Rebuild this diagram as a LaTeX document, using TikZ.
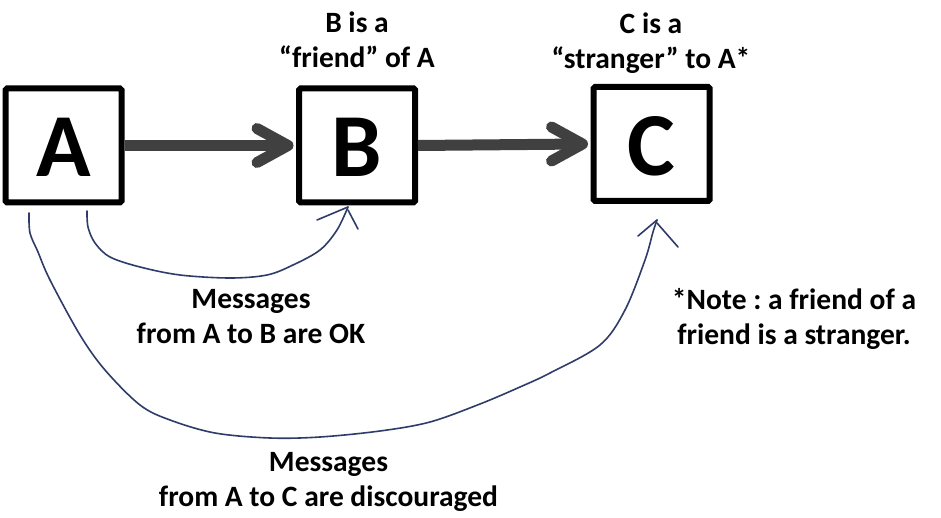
\documentclass[tikz,border=0pt]{standalone}
\usepackage{fontspec}
\setmainfont{Carlito}
\frenchspacing
\definecolor{shaft}{RGB}{64,64,64}
\definecolor{pen}{RGB}{47,60,105}
\tikzset{
  box/.style={draw=black, line width=6pt, minimum width=116pt, minimum height=114pt,
    inner sep=0pt, rounded corners=1.5pt, text height=63pt, text depth=0pt,
    font=\fontsize{90}{90}\selectfont\bfseries},
  label/.style={align=center, inner sep=0pt, font=\fontsize{29.5}{35}\selectfont\bfseries},
  thick arrow/.style={draw=shaft, line width=11pt},
  chevron/.style={draw=shaft, line width=11pt, line cap=round, line join=round},
  penline/.style={draw=pen, line width=1.6pt, line cap=round, line join=round},
}
\begin{document}
\begin{tikzpicture}[x=1pt, y=-1pt]
\useasboundingbox[fill=white] (0,0) rectangle (941,518);

\node[box] (A) at (63.5,145.5) {A};
\node[box] (B) at (357,145.5) {B};
\node[box] (C) at (651.5,144) {C};

\node[label] (lB) at (357,40) {B is a\\“friend” of A};
\node[label] (lC) at (651,43) {C is a\\“stranger” to A*};
\node[label] (mAB) at (251,316.5) {Messages\\from A to B are OK};
\node[label] (mAC) at (328.5,481.5) {Messages\\from A to C are discouraged};
\node[label] (note) at (794,318.5) {*Note : a friend of a\\friend is a stranger.};

% thick grey arrows
\coordinate (tB) at ([xshift=-8pt]B.west);
\coordinate (tC) at ([xshift=-8pt]C.west);
\draw[thick arrow] (A.east) -- (tB);
\draw[chevron] ([shift={(-31,-17)}]tB) -- (tB) -- ([shift={(-31,17)}]tB);
\draw[thick arrow] (B.east) -- (tC);
\draw[chevron] ([shift={(-31,-17)}]tC) -- (tC) -- ([shift={(-31,17)}]tC);

% hand-drawn curve A -> B
\coordinate (s1) at (87,211);
\coordinate (e1) at (348,207);
\draw[penline] plot[smooth, tension=0.55] coordinates {(s1) (88,227) (95,243) (110,257) (140,267) (180,275) (230,278) (267,275) (293,265) (320,250) (337,230) (e1)};
\draw[penline] (317,220) -- (e1);
\draw[penline] (348,210) -- (358,229);

% hand-drawn curve A -> C
\coordinate (s2) at (29,213);
\coordinate (e2) at (657,220);
\draw[penline] plot[smooth, tension=0.55] coordinates {(s2) (30,233) (38,252) (50,280) (80,335) (105,370) (140,405) (170,420) (215,433) (270,438) (320,437) (380,431) (430,422) (480,404) (520,387) (550,373) (600,345) (625,310) (645,260) (653,232) (e2)};
\draw[penline] (638,236) -- (e2);
\draw[penline] (657,223) -- (678,247);
\end{tikzpicture}
\end{document}
